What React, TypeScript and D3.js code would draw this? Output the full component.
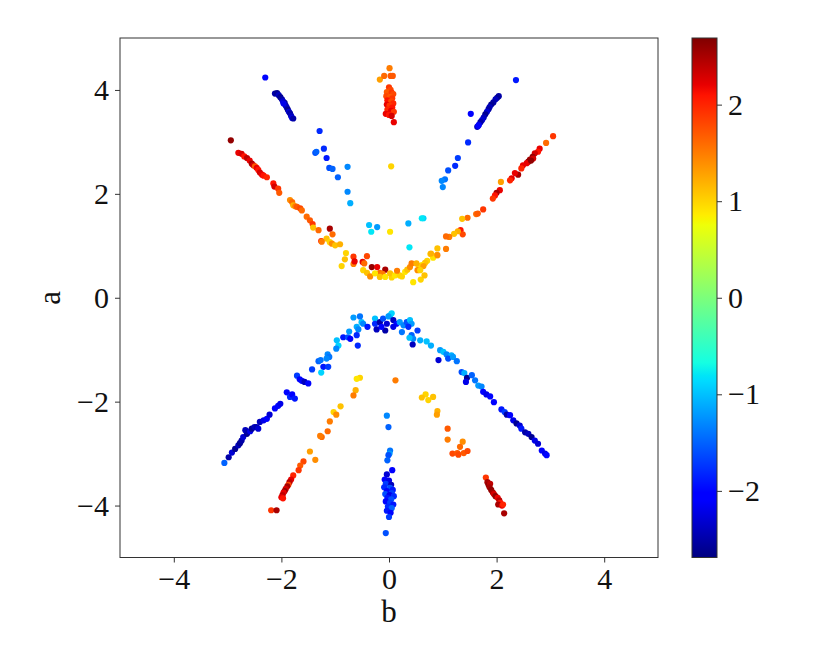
import React, { useRef, useEffect } from "react";
import * as d3 from "d3";

type Pt = [number, number, number]; // [b, a, value]

// tick labels
const xTicks = [-4, -2, 0, 2, 4];
const yTicks = [-4, -2, 0, 2, 4];
const cTicks = [-2, -1, 0, 1, 2];

const upperLeftBlue: Pt[] = [
  [-2.30, 4.24, -2.0], [-2.12, 3.93, -2.5], [-2.08, 3.94, -2.6], [-2.05, 3.90, -2.4],
  [-2.02, 3.86, -2.6], [-1.99, 3.82, -2.5], [-1.97, 3.78, -2.3], [-1.94, 3.75, -2.6],
  [-1.92, 3.70, -2.5], [-1.90, 3.66, -2.4], [-1.88, 3.62, -2.6], [-1.86, 3.58, -2.3],
  [-1.84, 3.55, -2.5], [-1.82, 3.50, -2.4], [-1.80, 3.46, -2.2], [-1.78, 3.45, -2.5],
  [-1.96, 3.74, -2.2],
];

const upperRightBlue: Pt[] = [
  [2.36, 4.19, -1.9], [1.52, 3.54, -2.1], [2.04, 3.88, -2.5], [2.01, 3.85, -2.6],
  [1.98, 3.82, -2.4], [1.94, 3.76, -2.5], [1.90, 3.72, -2.6], [1.87, 3.67, -2.4],
  [1.85, 3.63, -2.5], [1.82, 3.58, -2.3], [1.79, 3.53, -2.6], [1.76, 3.47, -2.4],
  [1.73, 3.42, -2.3], [1.70, 3.38, -2.5], [1.67, 3.33, -2.2], [1.64, 3.29, -2.4],
  [1.66, 3.31, -2.1],
];

const upperCenter: Pt[] = [
  [-0.17, 4.20, 1.3], [-0.09, 4.27, 1.6], [0.01, 4.42, 1.5], [0.03, 4.27, 1.7],
  [0.07, 4.27, 1.7], [0.00, 4.05, 1.9], [0.03, 4.00, 1.8], [-0.04, 3.96, 1.7],
  [0.05, 3.95, 1.9], [0.08, 3.92, 1.8], [-0.05, 3.88, 1.8], [0.02, 3.86, 1.7],
  [0.06, 3.84, 1.9], [-0.03, 3.80, 2.1], [0.04, 3.78, 1.8], [0.08, 3.74, 2.0],
  [-0.04, 3.72, 2.2], [0.01, 3.70, 1.9], [0.06, 3.66, 2.1], [-0.03, 3.62, 2.0],
  [0.04, 3.60, 2.2], [0.09, 3.58, 1.9], [-0.06, 3.54, 2.2], [0.00, 3.52, 2.1],
  [0.05, 3.50, 2.3], [0.09, 3.38, 2.2], [0.04, 2.53, 1.0], [0.02, 1.27, 0.9],
];

const upperLeftArc: Pt[] = [
  [-2.94, 3.03, 2.6], [-2.80, 2.79, 2.2], [-2.74, 2.77, 2.3], [-2.69, 2.72, 2.1],
  [-2.64, 2.69, 2.4], [-2.59, 2.64, 2.2], [-2.55, 2.58, 2.5], [-2.52, 2.55, 2.3],
  [-2.49, 2.53, 1.7], [-2.46, 2.50, 2.2], [-2.43, 2.46, 2.1], [-2.40, 2.41, 2.3],
  [-2.36, 2.37, 2.2], [-2.33, 2.35, 2.1], [-2.27, 2.32, 2.0], [-2.15, 2.20, 2.1],
  [-2.13, 2.14, 2.3], [-2.06, 2.10, 1.9], [-2.04, 2.02, 1.7], [-1.84, 1.88, 1.4],
  [-1.80, 1.84, 1.6], [-1.78, 1.78, 1.2], [-1.74, 1.76, 1.5], [-1.71, 1.75, 1.7],
  [-1.65, 1.72, 1.8], [-1.62, 1.68, 1.6], [-1.53, 1.56, 1.6], [-1.47, 1.49, 1.7],
  [-1.42, 1.42, 1.9], [-1.41, 1.35, 1.1], [-1.31, 1.30, 1.6], [-1.26, 1.09, 2.1],
  [-1.10, 1.33, 2.5], [-1.05, 1.22, 1.6], [-1.16, 1.14, 1.1], [-1.25, 1.08, 1.5],
  [-1.10, 1.07, 1.0], [-1.06, 1.04, 1.4], [-1.00, 1.01, 1.1], [-0.91, 1.03, 1.2],
  [-0.80, 0.86, 1.0], [-0.82, 0.74, 1.1], [-0.88, 0.61, 1.0], [-0.66, 0.79, 1.9],
  [-0.66, 0.65, 1.5], [-0.64, 0.70, 2.2], [-0.41, 0.80, 1.8], [-0.49, 0.69, 2.2],
  [-0.46, 0.66, 1.6], [-0.32, 0.59, 2.6], [-0.22, 0.59, 2.2], [-0.07, 0.54, 2.5],
  [-0.17, 0.48, 1.6], [-0.12, 0.46, 1.5], [-0.48, 0.53, 1.0], [-0.41, 0.48, 1.1],
  [-0.35, 0.41, 1.4], [-0.26, 0.47, 0.9], [-0.17, 0.40, 1.1], [-0.07, 0.40, 0.9],
];

const upperBridge: Pt[] = [
  [0.05, 0.39, 1.0], [0.02, 0.47, 1.1], [0.11, 0.43, 0.9], [0.20, 0.43, 1.0],
  [0.15, 0.52, 1.5], [0.24, 0.41, 1.0], [0.30, 0.50, 0.9], [0.34, 0.54, 1.1],
  [0.39, 0.59, 1.4], [0.42, 0.66, 1.5],
];

const upperRightArc: Pt[] = [
  [3.05, 3.11, 1.9], [2.92, 2.98, 1.6], [2.80, 2.87, 2.2], [2.77, 2.81, 2.1],
  [2.71, 2.78, 2.3], [2.67, 2.71, 2.6], [2.62, 2.66, 2.5], [2.59, 2.62, 2.6],
  [2.56, 2.59, 2.2], [2.68, 2.68, 2.3], [2.64, 2.64, 2.6], [2.49, 2.55, 2.2],
  [2.46, 2.49, 2.0], [2.40, 2.37, 2.5], [2.34, 2.40, 2.2], [2.28, 2.30, 2.2],
  [2.25, 2.26, 2.0], [2.08, 2.23, 1.3], [2.06, 2.07, 2.2], [2.00, 2.02, 2.5],
  [1.97, 1.97, 2.1], [1.93, 1.91, 1.9], [1.75, 1.70, 1.9], [1.62, 1.61, 1.6],
  [1.65, 1.62, 1.7], [1.46, 1.54, 1.6], [1.36, 1.52, 1.1], [1.33, 1.30, 2.1],
  [1.37, 1.22, 1.8], [1.28, 1.28, 1.2], [1.21, 1.23, 1.1], [1.12, 1.17, 1.5],
  [1.06, 1.18, 1.6], [0.90, 0.95, 1.1], [1.06, 0.94, 1.5], [0.77, 0.84, 1.0],
  [0.89, 0.82, 1.1], [0.82, 0.77, 0.9], [0.78, 0.85, 1.2], [0.90, 0.82, 1.4],
  [0.71, 0.71, 1.0], [0.67, 0.67, 1.1], [0.61, 0.63, 0.9], [0.56, 0.61, 1.0],
  [0.51, 0.66, 1.2], [0.53, 0.53, 1.4], [0.64, 0.61, 1.3], [0.58, 0.53, 1.0],
  [0.45, 0.30, 0.9], [0.59, 0.35, 1.0], [0.66, 0.43, 1.1],
];

const upperInnerBlue: Pt[] = [
  [-1.29, 3.21, -1.8], [-1.37, 2.79, -1.6], [-1.35, 2.81, -1.5], [-1.21, 2.87, -1.8],
  [-1.16, 2.69, -1.9], [-1.11, 2.50, -1.6], [-1.05, 2.48, -1.5], [-0.95, 2.32, -1.5],
  [-0.77, 2.52, -1.3], [-0.77, 2.04, -1.3], [-0.72, 1.82, -1.1], [-0.37, 1.40, -1.0],
  [-0.33, 1.27, -0.8], [-0.22, 1.36, -1.2], [1.47, 2.99, -1.8], [1.28, 2.69, -1.7],
  [1.23, 2.54, -1.8], [1.10, 2.45, -1.6], [1.04, 2.28, -1.4], [0.98, 2.25, -1.3],
  [1.00, 2.13, -1.3], [0.64, 1.53, -0.9], [0.61, 1.53, -0.8], [0.36, 1.43, -1.1],
  [0.38, 0.97, -0.8],
];

const lowerArc: Pt[] = [
  [-3.06, -3.18, -1.5], [-2.98, -3.07, -2.5], [-2.92, -2.98, -2.3], [-2.86, -2.91, -2.6],
  [-2.80, -2.84, -2.4], [-2.77, -2.80, -2.6], [-2.74, -2.75, -2.5], [-2.71, -2.68, -2.3],
  [-2.64, -2.62, -2.6], [-2.67, -2.55, -2.4], [-2.62, -2.58, -2.5], [-2.58, -2.57, -2.2],
  [-2.55, -2.52, -2.6], [-2.50, -2.49, -2.4], [-2.46, -2.49, -2.5], [-2.43, -2.52, -2.3],
  [-2.40, -2.39, -2.4], [-2.33, -2.36, -2.2], [-2.27, -2.33, -2.1], [-2.22, -2.25, -2.3],
  [-2.12, -2.13, -2.1], [-2.06, -2.08, -2.0], [-2.02, -2.04, -2.2], [-1.90, -1.82, -2.0],
  [-1.84, -1.91, -1.8], [-1.80, -1.86, -2.1], [-1.75, -1.94, -1.9], [-1.71, -1.50, -1.7],
  [-1.66, -1.57, -2.1], [-1.62, -1.60, -2.0], [-1.57, -1.62, -2.4], [-1.50, -1.65, -2.0],
  [-1.43, -1.38, -1.7], [-1.31, -1.22, -1.5], [-1.27, -1.20, -1.4], [-1.14, -1.09, -1.3],
  [-1.11, -1.14, -1.4], [-1.16, -1.17, -1.3], [-1.22, -1.33, -1.9], [-1.13, -1.33, -1.7],
  [-1.26, -1.44, -0.9],
  [-0.97, -0.82, -1.0], [-0.94, -0.92, -0.9], [-0.98, -0.98, -1.3], [-0.85, -0.76, -1.9],
  [-0.76, -0.76, -1.6], [-0.72, -0.79, -2.1], [-0.74, -0.65, -1.2], [-0.60, -0.56, -1.1],
  [-0.57, -0.61, -1.3], [-0.60, -0.72, -1.8], [-0.58, -0.92, -1.8], [-0.51, -0.47, -1.0],
  [-0.48, -0.50, -1.3], [-0.66, -0.38, -1.2], [-0.54, -0.36, -1.4], [-0.40, -0.56, -1.9],
  [-0.26, -0.40, -1.0], [-0.26, -0.50, -1.8], [-0.23, -0.61, -2.4], [-0.17, -0.47, -2.5],
  [-0.11, -0.40, -1.6], [-0.04, -0.50, -2.3], [-0.07, -0.63, -2.5], [-0.14, -0.56, -2.0],
  [0.02, -0.34, -1.0], [0.05, -0.30, -0.9], [-0.01, -0.36, -1.2], [0.08, -0.43, -2.4],
  [0.14, -0.50, -2.0], [0.08, -0.56, -2.2], [0.20, -0.47, -1.2], [0.27, -0.53, -1.3],
  [0.24, -0.66, -1.4], [0.33, -0.47, -1.6], [0.39, -0.43, -1.0], [0.42, -0.50, -1.2],
  [0.36, -0.56, -1.8], [0.53, -0.63, -1.7], [0.42, -0.72, -1.5], [0.45, -0.79, -1.3],
  [0.38, -0.77, -1.0], [0.58, -0.82, -1.1], [0.70, -0.84, -1.0], [0.78, -0.92, -1.1],
  [0.44, -0.90, -2.4], [0.95, -1.01, -1.2], [1.01, -1.04, -1.0], [1.07, -1.09, -1.3],
  [1.16, -1.11, -1.1], [1.10, -1.17, -1.6], [0.92, -1.20, -2.3], [1.19, -1.14, -1.2],
  [1.26, -1.22, -1.4], [1.35, -1.43, -1.6], [1.40, -1.45, -1.1], [1.45, -1.54, -2.6],
  [1.43, -1.62, -2.2], [1.54, -1.49, -1.5], [1.60, -1.59, -1.4], [1.66, -1.69, -1.2],
  [1.72, -1.71, -1.3], [1.75, -1.81, -2.1], [1.81, -1.86, -2.2], [1.88, -1.90, -2.0],
  [1.95, -2.01, -2.1], [2.09, -2.15, -1.9], [2.15, -2.20, -1.7], [2.19, -2.25, -2.5],
  [2.25, -2.26, -2.1], [2.31, -2.36, -2.2], [2.37, -2.42, -2.6], [2.43, -2.46, -2.3],
  [2.46, -2.52, -1.9], [2.53, -2.59, -2.5], [2.59, -2.62, -2.4], [2.65, -2.68, -2.6],
  [2.71, -2.75, -2.2], [2.77, -2.81, -2.3], [2.84, -2.94, -2.1], [2.90, -3.00, -2.2],
  [2.93, -3.03, -2.0],
];

const lowerLeftOrange: Pt[] = [
  [-0.54, -1.54, 1.0], [-0.60, -1.56, 0.9], [-0.62, -1.78, 1.2], [-0.66, -1.88, 1.5],
  [-0.90, -2.09, 1.1], [-1.03, -2.20, 1.0], [-0.98, -2.25, 1.4], [-1.10, -2.38, 1.5],
  [-1.14, -2.57, 1.6], [-1.25, -2.68, 1.6], [-1.28, -2.66, 1.5], [-1.47, -2.96, 1.3],
  [-1.37, -3.12, 1.4], [-1.59, -3.15, 1.8], [-1.65, -3.23, 1.7], [-1.68, -3.32, 1.9],
];

const lowerLeftRed: Pt[] = [
  [-1.78, -3.42, 2.0], [-1.82, -3.50, 2.2], [-1.85, -3.55, 2.4], [-1.87, -3.60, 1.8],
  [-1.89, -3.63, 2.5], [-1.92, -3.68, 2.3], [-1.94, -3.72, 2.6], [-1.96, -3.75, 2.2],
  [-1.98, -3.80, 2.4], [-2.00, -3.84, 2.2], [-1.97, -3.86, 2.1], [-2.19, -4.09, 1.9],
  [-2.09, -4.09, 2.5],
];

const lowerRightYellow: Pt[] = [
  [0.12, -1.59, 1.5], [0.68, -1.86, 1.0], [0.61, -1.92, 1.1], [0.73, -1.97, 1.0],
  [0.82, -1.91, 1.1], [0.90, -2.18, 1.2], [0.89, -2.25, 1.3], [1.09, -2.52, 1.7],
  [1.09, -2.73, 1.5], [1.37, -2.77, 1.4], [1.32, -2.87, 1.6], [1.18, -3.00, 1.8],
  [1.27, -2.99, 1.7], [1.29, -3.02, 1.8], [1.39, -2.99, 1.7], [1.46, -2.95, 1.8],
];

const lowerRightRed: Pt[] = [
  [1.80, -3.46, 1.9], [1.83, -3.55, 2.5], [1.85, -3.60, 2.6], [1.88, -3.58, 2.4],
  [1.87, -3.65, 2.5], [1.90, -3.70, 2.6], [1.93, -3.75, 2.5], [1.95, -3.78, 2.3],
  [1.98, -3.82, 2.6], [2.02, -3.85, 2.2], [2.05, -3.90, 2.4], [2.07, -3.95, 2.1],
  [2.03, -3.98, 2.5], [2.10, -4.00, 2.2], [2.12, -3.98, 2.0], [2.14, -4.15, 2.5],
];

const lowerCenterBlue: Pt[] = [
  [-0.04, -2.27, -1.3], [-0.01, -2.49, -1.5], [0.02, -2.94, -1.4], [0.01, -3.00, -1.2],
  [-0.01, -3.03, -1.6], [-0.03, -3.13, -1.5], [0.06, -3.32, -2.1], [-0.04, -3.40, -2.3],
  [-0.08, -3.50, -2.1], [0.00, -3.52, -2.2], [-0.06, -3.58, -1.7], [0.04, -3.60, -2.4],
  [-0.09, -3.65, -1.8], [0.02, -3.66, -1.6], [0.07, -3.70, -1.9], [-0.04, -3.72, -2.0],
  [0.05, -3.76, -1.7], [-0.07, -3.78, -1.6], [0.01, -3.80, -2.2], [0.09, -3.82, -1.8],
  [-0.03, -3.85, -1.9], [0.04, -3.88, -1.6], [-0.06, -3.92, -2.0], [0.02, -3.95, -1.7],
  [0.08, -3.98, -1.9], [-0.02, -4.02, -1.8], [0.05, -4.05, -1.5], [-0.04, -4.10, -1.9],
  [0.03, -4.14, -2.0], [0.00, -4.22, -1.7], [-0.06, -4.53, -1.6],
];

const groups = [
  upperLeftBlue, upperRightBlue, upperCenter, upperLeftArc, upperBridge, upperRightArc,
  upperInnerBlue, lowerArc, lowerLeftOrange, lowerLeftRed, lowerRightYellow, lowerRightRed,
  lowerCenterBlue,
];

// matplotlib "jet"
const jetR = d3.scaleLinear([0, 0.35, 0.66, 0.89, 1], [0, 0, 1, 1, 0.5]).clamp(true);
const jetG = d3.scaleLinear([0, 0.125, 0.375, 0.64, 0.91, 1], [0, 0, 1, 1, 0, 0]).clamp(true);
const jetB = d3.scaleLinear([0, 0.11, 0.34, 0.65, 1], [0.5, 1, 1, 0, 0]).clamp(true);
const jet = (t: number) =>
  d3.rgb(jetR(t) * 255, jetG(t) * 255, jetB(t) * 255).formatHex();

const minus = (d: d3.NumberValue) => String(d).replace("-", "\u2212");

export default function App() {
  const svgRef = useRef<SVGSVGElement>(null);

  useEffect(() => {
    const width = 830;
    const height = 664;
    const left = 120, right = 658, top = 38, bottom = 557.5;
    const font = "'Liberation Serif', serif";
    const fs = 30;
    const cmin = -2.69, cmax = 2.69;

    const x = d3.scaleLinear().domain([-5, 5]).range([left, right]);
    const y = d3.scaleLinear().domain([-5, 5]).range([bottom, top]);
    const cNorm = d3.scaleLinear().domain([cmin, cmax]).range([0, 1]);
    const color = (v: number) => jet(cNorm(v));

    const svg = d3.select(svgRef.current)
      .attr("width", width)
      .attr("height", height);
    svg.selectAll("*").remove();

    svg.append("rect").attr("width", width).attr("height", height).attr("fill", "white");

    const all = groups.flat();
    svg.append("g")
      .selectAll("circle")
      .data(all)
      .join("circle")
        .attr("cx", d => x(d[0]))
        .attr("cy", d => y(d[1]))
        .attr("r", 3.1)
        .attr("fill", d => color(d[2]));

    // frame
    svg.append("rect")
      .attr("x", left).attr("y", top)
      .attr("width", right - left).attr("height", bottom - top)
      .attr("fill", "none").attr("stroke", "#333").attr("stroke-width", 1);

    const style = (g: d3.Selection<SVGGElement, unknown, null, undefined>) => {
      g.select(".domain").remove();
      g.selectAll("line").attr("stroke", "#333");
      g.selectAll("text").attr("font-family", font).attr("font-size", fs).attr("fill", "#111");
    };

    // bottom axis
    svg.append("g").attr("transform", `translate(0,${bottom})`)
      .call(d3.axisBottom(x).tickValues(xTicks).tickSize(5).tickPadding(5).tickFormat(minus))
      .call(style);

    // left axis
    svg.append("g").attr("transform", `translate(${left},0)`)
      .call(d3.axisLeft(y).tickValues(yTicks).tickSize(5).tickPadding(6).tickFormat(minus))
      .call(style);

    svg.append("text")
      .attr("x", (left + right) / 2).attr("y", 622)
      .attr("text-anchor", "middle")
      .attr("font-family", font).attr("font-size", 31).attr("fill", "#111")
      .text("b");

    svg.append("text")
      .attr("transform", `translate(60,${(top + bottom) / 2}) rotate(-90)`)
      .attr("text-anchor", "middle")
      .attr("font-family", font).attr("font-size", 31).attr("fill", "#111")
      .text("a");

    // colorbar
    const cbL = 692, cbR = 717;
    const cy = d3.scaleLinear().domain([cmin, cmax]).range([bottom, top]);
    const defs = svg.append("defs");
    const grad = defs.append("linearGradient")
      .attr("id", "jetgrad")
      .attr("x1", 0).attr("y1", 1).attr("x2", 0).attr("y2", 0);
    const stops = [0, 0.11, 0.125, 0.34, 0.35, 0.375, 0.64, 0.65, 0.66, 0.89, 0.91, 1];
    grad.selectAll("stop")
      .data(stops)
      .join("stop")
        .attr("offset", d => d)
        .attr("stop-color", d => jet(d));
    svg.append("rect")
      .attr("x", cbL).attr("y", top)
      .attr("width", cbR - cbL).attr("height", bottom - top)
      .attr("fill", "url(#jetgrad)")
      .attr("stroke", "#333").attr("stroke-width", 1);

    svg.append("g").attr("transform", `translate(${cbR},0)`)
      .call(d3.axisRight(cy).tickValues(cTicks).tickSize(5).tickPadding(6).tickFormat(minus))
      .call(style);
  }, []);

  return (
    <div style={{ position: "absolute", left: 0, top: 0 }}>
      <svg ref={svgRef} style={{ display: "block" }}></svg>
    </div>
  );
}
